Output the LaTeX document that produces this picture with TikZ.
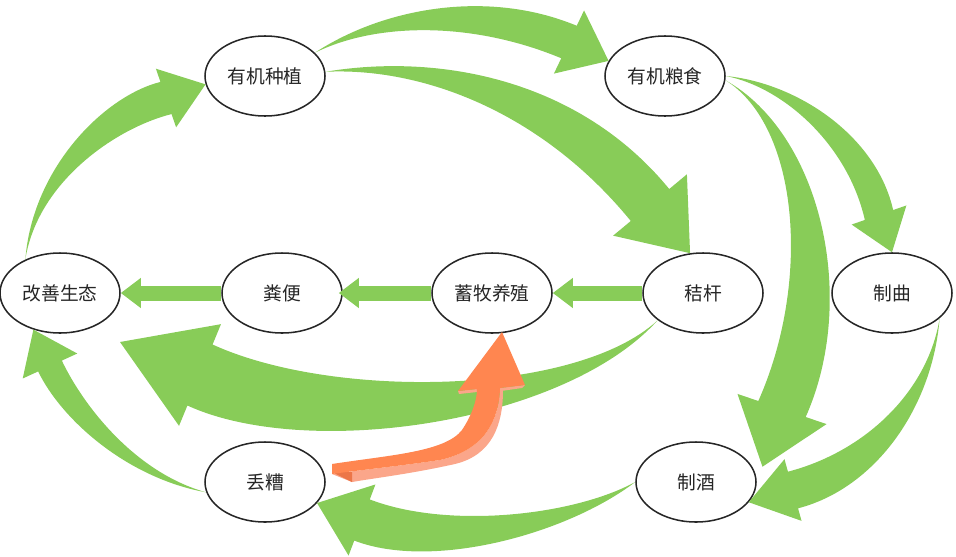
\documentclass[tikz,border=0pt]{standalone}
\usepackage{fontspec}
\setmainfont{Noto Sans CJK SC}
\usetikzlibrary{shapes.geometric,calc,arrows.meta}

\definecolor{leafgreen}{RGB}{136,204,88}
\definecolor{carrot}{RGB}{255,134,80}
\definecolor{carrotlight}{RGB}{251,166,138}
\definecolor{carrotdark}{RGB}{236,118,72}
\definecolor{rimgray}{RGB}{38,38,38}

\newcommand{\px}{0.03cm}
% tapered curved arrow: tail, control 1, control 2, head base, tip, shaft half width, head half width (in px)
\newcommand{\fatarrow}[7]{%
  \coordinate (fa-b) at (#4);
  \coordinate (fa-p) at (#5);
  \coordinate (fa-l) at ($(fa-b)!#6*\px!90:(fa-p)$);
  \coordinate (fa-r) at ($(fa-b)!#6*\px!-90:(fa-p)$);
  \coordinate (fa-hl) at ($(fa-b)!#7*\px!90:(fa-p)$);
  \coordinate (fa-hr) at ($(fa-b)!#7*\px!-90:(fa-p)$);
  \fill[flow] (#1) .. controls ($(#2)+0.45*(fa-l)-0.45*(fa-b)$) and ($(#3)+(fa-l)-(fa-b)$) .. (fa-l)
    -- (fa-hl) -- (fa-p) -- (fa-hr) -- (fa-r)
    .. controls ($(#3)+(fa-r)-(fa-b)$) and ($(#2)+0.45*(fa-r)-0.45*(fa-b)$) .. (#1) -- cycle;
}

\tikzset{
  stage/.style={ellipse,draw=rimgray,line width=1.3pt,fill=white,text=black!85,
    minimum width=3.6cm,minimum height=2.4cm,inner sep=0pt,font=\fontsize{16}{18}\selectfont},
  flow/.style={fill=leafgreen},
  flat/.style={draw=leafgreen,line width=0.45cm,-{Triangle[width=0.86cm,length=0.6cm]}}
}

\begin{document}
\begin{tikzpicture}[x=0.03cm,y=-0.03cm]
  \useasboundingbox (0,0) rectangle (956,556);

  \node[stage] (zhongzhi) at (265,76) {有机种植};
  \node[stage] (liangshi) at (665,76) {有机粮食};
  \node[stage] (shengtai) at (60,293) {改善生态};
  \node[stage] (fenbian) at (282,293) {粪便};
  \node[stage] (xumu) at (492,293) {蓄牧养殖};
  \node[stage] (jiegan) at (703,293) {秸杆};
  \node[stage] (zhiqu) at (892,293) {制曲};
  \node[stage] (diuzao) at (265,482) {丢糟};
  \node[stage] (zhijiu) at (696,482) {制酒};
  \coordinate (huantian) at (120,342);

  % curved flows
  \fatarrow{shengtai.136}{35,175}{110,112}{166,98}{zhongzhi.188}{17}{31}
  \fatarrow{zhongzhi.25}{380,15}{480,5}{569,42}{liangshi.165}{18}{35}
  \fatarrow{zhongzhi.4}{430,60}{560,95}{650,205}{jiegan.108}{25}{48}
  \fatarrow{liangshi.east}{790,85}{862,140}{879,215}{zhiqu.north}{15}{29}
  \fatarrow{liangshi.-4}{810,130}{835,290}{782,409}{$(zhijiu.13)+(9,-2)$}{25}{47}
  \fatarrow{zhiqu.-28}{930,400}{870,470}{793,490}{zhijiu.-21}{19}{32}
  \fatarrow{zhijiu.west}{570,525}{440,550}{362,520}{diuzao.-22}{22}{38}
  \fatarrow{diuzao.190}{130,475}{72,412}{50,366}{shengtai.234}{13}{30}
  \fatarrow{jiegan.211}{570,410}{320,430}{200,375}{huantian}{33}{55}

  % straight flows
  \draw[flat] (xumu.west) -- ($(fenbian.east)+(-4,0)$);
  \draw[flat] (fenbian.west) -- (shengtai.east);
  \draw[flat] (jiegan.west) -- (xumu.east);

  % orange ribbon arrow
  \fill[carrotlight] (332,474) .. controls (360,470) and (400,466) .. (440,460)
    .. controls (485,450) and (499,420) .. (500,388) -- (503,390)
    .. controls (503,425) and (492,455) .. (455,464)
    .. controls (410,474) and (375,478) .. (352,482) -- cycle;
  \fill[carrotdark] (332,472) -- (352,482) -- (352,472) -- cycle;
  \fill[carrotlight] (458,391) -- (477,389) -- (477,392) -- (459,394) -- cycle;
  \fill[carrotlight] (500,388) -- (525,385) -- (522,388) -- (501,391) -- cycle;
  \fill[carrot] (332,464) .. controls (390,455) and (445,452) .. (462,430)
    .. controls (472,415) and (477,400) .. (477,389) -- (458,391) -- (502,332) -- (525,385) -- (500,388)
    .. controls (499,420) and (485,450) .. (440,460)
    .. controls (400,466) and (360,470) .. (332,474) -- cycle;
\end{tikzpicture}
\end{document}
